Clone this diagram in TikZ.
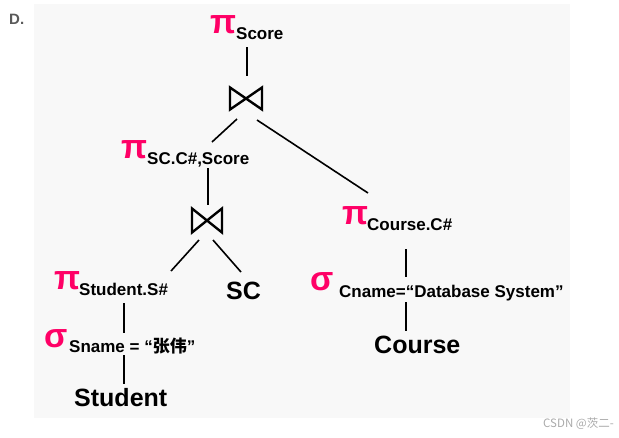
\documentclass[tikz,border=0pt]{standalone}
\usepackage{fontspec}
\setmainfont{Liberation Sans}
\newfontfamily\cjk{Noto Sans CJK SC}
\definecolor{opcol}{RGB}{255,0,102}
\definecolor{panel}{RGB}{248,248,248}
\definecolor{lab}{RGB}{90,90,90}
\definecolor{wmk}{RGB}{170,170,170}
\begin{document}
\begin{tikzpicture}[x=1pt,y=-1pt,
  op/.style={anchor=base west,inner sep=0,text=opcol,font=\fontsize{34}{34}\selectfont\bfseries},
  sub/.style={anchor=base west,inner sep=0,font=\fontsize{17}{17}\selectfont\bfseries},
  rel/.style={anchor=base west,inner sep=0,font=\fontsize{25}{25}\selectfont\bfseries},
  edge/.style={line width=1.6pt},
  bowtie/.style={line width=2.4pt,line join=miter}]
\useasboundingbox (0,0) rectangle (619,437);
\fill[panel] (34,4) rectangle (570,418);
\node[anchor=base west,inner sep=0,text=lab,font=\fontsize{15}{15}\selectfont\bfseries] (D) at (9,24) {D.};
% top projection
\node[op] (p1) at (210,33) {π};
\node[sub] (s1) at (236,39) {Score};
\coordinate (j1) at (246,98.5);
\draw[bowtie,shift={(j1)}] (-16,-11) -- (16,11) -- (16,-11) -- (-16,11) -- cycle;
\coordinate (a1) at (247,47); \coordinate (a2) at (247,76);
\draw[edge] (a1) -- (a2);
% left projection
\node[op] (p2) at (121,158) {π};
\node[sub] (s2) at (147,164) {SC.C\#,Score};
\coordinate (b1) at (237,119); \coordinate (b2) at (212,142);
\draw[edge] (b1) -- (b2);
\coordinate (c1) at (257,120); \coordinate (c2) at (368,193);
\draw[edge] (c1) -- (c2);
\coordinate (d1) at (208,168); \coordinate (d2) at (208,205);
\draw[edge] (d1) -- (d2);
\coordinate (j2) at (207,220.5);
\draw[bowtie,shift={(j2)}] (-15,-12) -- (15,12) -- (15,-12) -- (-15,12) -- cycle;
\coordinate (e1) at (199,240); \coordinate (e2) at (171,271);
\draw[edge] (e1) -- (e2);
\coordinate (f1) at (213,240); \coordinate (f2) at (241,272);
\draw[edge] (f1) -- (f2);
% Student branch
\node[op] (p3) at (54,289) {π};
\node[sub] (s3) at (79,295) {Student.S\#};
\node[rel] (sc) at (226,299) {SC};
\coordinate (g1) at (124,303); \coordinate (g2) at (124,333);
\draw[edge] (g1) -- (g2);
\node[op] (sg1) at (44,347) {σ};
\node[sub] (s4) at (69,352) {Sname = “{\cjk 张伟}”};
\coordinate (h1) at (124,355); \coordinate (h2) at (124,384);
\draw[edge] (h1) -- (h2);
\node[rel] (stu) at (74,406) {Student};
% Course branch
\node[op] (p4) at (342,224) {π};
\node[sub] (s5) at (367,230) {Course.C\#};
\coordinate (k1) at (406,249); \coordinate (k2) at (406,277);
\draw[edge] (k1) -- (k2);
\node[op] (sg2) at (310,290) {σ};
\node[sub] (s6) at (339,297) {Cname=“Database System”};
\coordinate (m1) at (406,302); \coordinate (m2) at (406,331);
\draw[edge] (m1) -- (m2);
\node[rel] (crs) at (374,353) {Course};
\node[anchor=base west,inner sep=0,text=wmk,font=\cjk\fontsize{11.5}{11.5}\selectfont] (wm) at (543,427) {CSDN @茨二-};
\end{tikzpicture}
\end{document}
